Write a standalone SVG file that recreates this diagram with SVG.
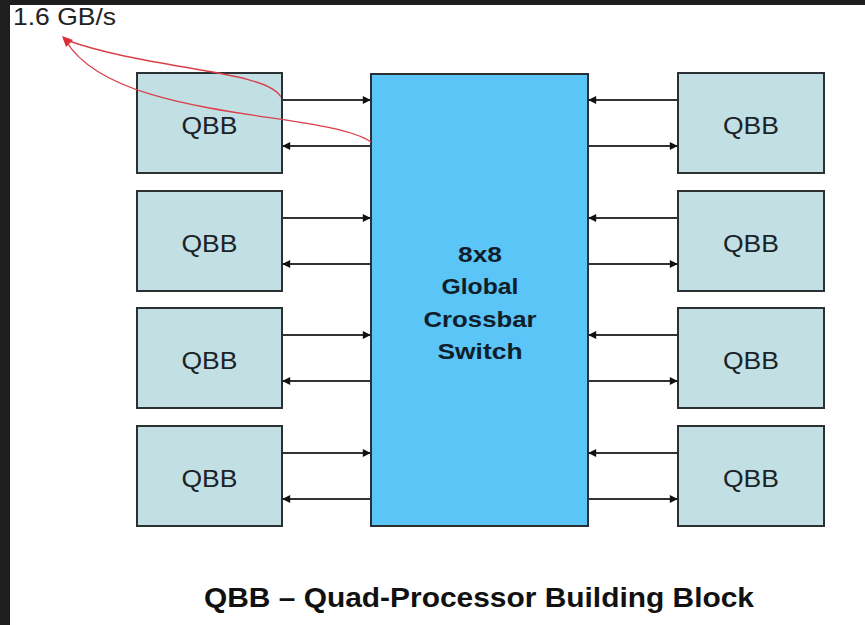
<svg xmlns="http://www.w3.org/2000/svg" width="865" height="625" viewBox="0 0 865 625">
<defs>
<style>
.qbb rect{fill:#c2dfe4;stroke:#2b3033;stroke-width:2}
.qbb text{font-family:"Liberation Sans",Arial,sans-serif;font-size:24px;fill:#1a2327;text-anchor:middle}
.sw text{font-family:"Liberation Sans",Arial,sans-serif;font-size:22px;font-weight:bold;fill:#0f1e2a;text-anchor:middle}
.ln{stroke:#333;stroke-width:1.8;fill:none;marker-end:url(#ah)}
.red{stroke:#d9404a;stroke-width:1.4;fill:none}
</style>
<marker id="ah" viewBox="0 0 10 10" refX="9" refY="5" markerWidth="9" markerHeight="8" markerUnits="userSpaceOnUse" orient="auto">
<path d="M0,0L10,5L0,10z" fill="#111"/>
</marker>
</defs>
<rect width="865" height="625" fill="#fff"/>
<rect x="0" y="0" width="865" height="5" fill="#1e1e1e"/>
<rect x="0" y="0" width="10" height="625" fill="#1e1e1e"/>

<g id="switch" class="sw">
<rect x="371" y="74" width="217" height="452" fill="#5bc5f8" stroke="#2b3033" stroke-width="2"/>
<text x="480" y="262" textLength="44" lengthAdjust="spacingAndGlyphs">8x8</text>
<text x="480" y="294" textLength="77" lengthAdjust="spacingAndGlyphs">Global</text>
<text x="480" y="327" textLength="113" lengthAdjust="spacingAndGlyphs">Crossbar</text>
<text x="480" y="359" textLength="85" lengthAdjust="spacingAndGlyphs">Switch</text>
</g>

<g id="qbb-l1" class="qbb"><rect x="137" y="73" width="145" height="100"/><text x="209.5" y="134" textLength="56" lengthAdjust="spacingAndGlyphs">QBB</text></g>
<g id="qbb-l2" class="qbb"><rect x="137" y="191" width="145" height="100"/><text x="209.5" y="252" textLength="56" lengthAdjust="spacingAndGlyphs">QBB</text></g>
<g id="qbb-l3" class="qbb"><rect x="137" y="308" width="145" height="100"/><text x="209.5" y="369" textLength="56" lengthAdjust="spacingAndGlyphs">QBB</text></g>
<g id="qbb-l4" class="qbb"><rect x="137" y="426" width="145" height="100"/><text x="209.5" y="487" textLength="56" lengthAdjust="spacingAndGlyphs">QBB</text></g>
<g id="qbb-r1" class="qbb"><rect x="678" y="73" width="146" height="100"/><text x="751" y="134" textLength="56" lengthAdjust="spacingAndGlyphs">QBB</text></g>
<g id="qbb-r2" class="qbb"><rect x="678" y="191" width="146" height="100"/><text x="751" y="252" textLength="56" lengthAdjust="spacingAndGlyphs">QBB</text></g>
<g id="qbb-r3" class="qbb"><rect x="678" y="308" width="146" height="100"/><text x="751" y="369" textLength="56" lengthAdjust="spacingAndGlyphs">QBB</text></g>
<g id="qbb-r4" class="qbb"><rect x="678" y="426" width="146" height="100"/><text x="751" y="487" textLength="56" lengthAdjust="spacingAndGlyphs">QBB</text></g>

<g id="connectors">
<path class="ln" d="M283,100H370"/><path class="ln" d="M370,146H283"/>
<path class="ln" d="M283,218H370"/><path class="ln" d="M370,264H283"/>
<path class="ln" d="M283,335H370"/><path class="ln" d="M370,381H283"/>
<path class="ln" d="M283,453H370"/><path class="ln" d="M370,499H283"/>
<path class="ln" d="M677,100H589"/><path class="ln" d="M589,146H677"/>
<path class="ln" d="M677,218H589"/><path class="ln" d="M589,264H677"/>
<path class="ln" d="M677,335H589"/><path class="ln" d="M589,381H677"/>
<path class="ln" d="M677,453H589"/><path class="ln" d="M589,499H677"/>
<path class="red" d="M281,97C266,70 150,70 66,40"/>
<path class="red" d="M371,142C325,110 115,122 66,41"/>
<polygon points="62,36 73,40 66,47" fill="#d9303a"/>
</g>

<text x="13" y="25" font-family="Liberation Sans,Arial,sans-serif" font-size="24" fill="#222" textLength="103" lengthAdjust="spacingAndGlyphs">1.6 GB/s</text>
<text x="204" y="607" font-family="Liberation Sans,Arial,sans-serif" font-size="27" font-weight="bold" fill="#111" textLength="550" lengthAdjust="spacingAndGlyphs">QBB – Quad-Processor Building Block</text>
</svg>
